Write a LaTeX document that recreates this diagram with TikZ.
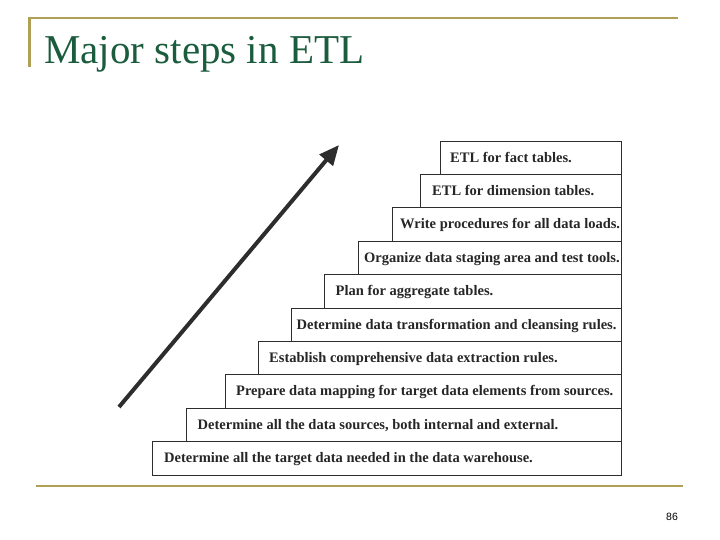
\documentclass[tikz,border=0pt]{standalone}
\usepackage{fontspec}
\setmainfont{Liberation Serif}
\newfontfamily\numfont{Liberation Sans}
\usetikzlibrary{arrows.meta}
\definecolor{titlegreen}{RGB}{28,92,62}
\definecolor{rulegold}{RGB}{176,160,86}
\definecolor{boxline}{RGB}{45,45,45}
\definecolor{arrowgray}{RGB}{45,45,45}
\tikzset{
  stepbox/.style={draw=boxline, line width=1pt, rectangle, anchor=north west, inner sep=0pt},
  steptext/.style={anchor=west, inner sep=0pt, text height=9.6pt, text depth=0pt,
    font=\fontsize{14.5}{16}\selectfont\bfseries, text=black!85},
  rulestyle/.style={draw=rulegold, line width=2.2pt},
}
\begin{document}
\begin{tikzpicture}[x=1pt,y=-1pt]
\useasboundingbox (0,0) rectangle (720,540);
% slide rules
\coordinate (tl) at (29.5,66);
\coordinate (tc) at (29.5,18);
\coordinate (tr) at (677,18);
\coordinate (bl) at (36,486);
\coordinate (br) at (683,486);
\draw[rulestyle, line cap=rect] (tl) -- (tc) -- (tr);
\draw[rulestyle] (bl) -- (br);
% title
\node[anchor=base west, inner sep=0pt, text=titlegreen, font=\fontsize{41}{45}\selectfont] (title) at (44,64) {Major steps in ETL};
% page number
\node[inner sep=0pt, font=\numfont\fontsize{10.5}{12}\selectfont] (pnum) at (672,517) {86};
% step boxes
\def\rh{33.38}
\foreach \i/\l/\tx/\t in {
  0/440/450/{ETL for fact tables.},
  1/420/432/{ETL for dimension tables.},
  2/392/400/{Write procedures for all data loads.},
  3/358/364/{Organize data staging area and test tools.},
  4/324/335.5/{Plan for aggregate tables.},
  5/291/296.5/{Determine data transformation and cleansing rules.},
  6/258/269/{Establish comprehensive data extraction rules.},
  7/224.5/236/{Prepare data mapping for target data elements from sources.},
  8/186/197.5/{Determine all the data sources, both internal and external.},
  9/152/164/{Determine all the target data needed in the data warehouse.}}
{
  \pgfmathsetmacro{\top}{140.7+\i*\rh}
  \pgfmathsetmacro{\w}{620.5-\l}
  \pgfmathsetmacro{\mid}{\top+\rh/2}
  \node[stepbox, minimum width=\w pt, minimum height=\rh pt] (box\i) at (\l,\top) {};
  \node[steptext] (txt\i) at (\tx,\mid) {\t};
}
% arrow
\coordinate (arrtail) at (119,407);
\coordinate (arrtip) at (339,145);
\draw[arrowgray, line width=4pt, -{Triangle[length=20pt,width=17pt]}] (arrtail) -- (arrtip);
\end{tikzpicture}
\end{document}
